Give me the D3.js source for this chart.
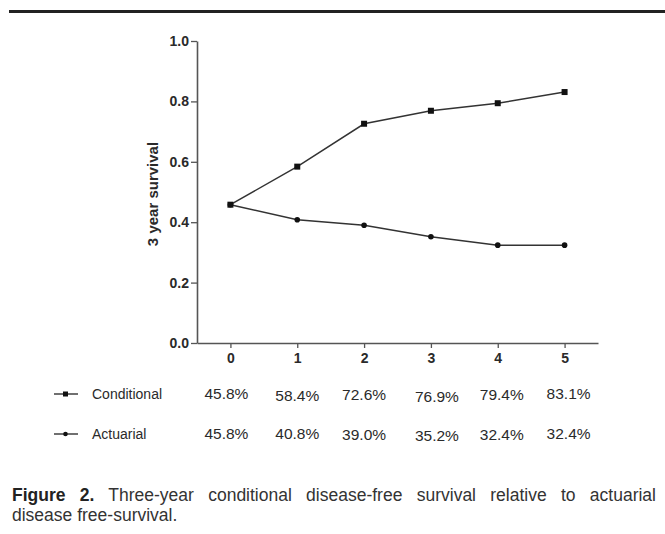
<!DOCTYPE html>
<html><head><meta charset="utf-8">
<script src="https://cdn.jsdelivr.net/npm/d3@7"></script>
<style>
body{margin:0;background:#fff;}
svg{display:block;font-family:"Liberation Sans",Arial,sans-serif;}
</style></head>
<body>
<svg id="c" width="665" height="534"></svg>
<script>
const years = [0, 1, 2, 3, 4, 5];
const conditional = [0.458, 0.584, 0.726, 0.769, 0.794, 0.831];
const actuarial = [0.458, 0.408, 0.390, 0.352, 0.324, 0.324];
const conditionalLabels = ["45.8%", "58.4%", "72.6%", "76.9%", "79.4%", "83.1%"];
const actuarialLabels = ["45.8%", "40.8%", "39.0%", "35.2%", "32.4%", "32.4%"];
const yTicks = [0.0, 0.2, 0.4, 0.6, 0.8, 1.0];
const seriesNames = ["Conditional", "Actuarial"];

const svg = d3.select("#c");
const x = d3.scaleLinear().domain([-0.5, 5.5]).range([197, 598]);
const y = d3.scaleLinear().domain([0, 1]).range([343, 41]);
const ink = "#2a2a2a", axisCol = "#555";

// top rule
svg.append("rect").attr("x", 9).attr("y", 10).attr("width", 656).attr("height", 3).attr("fill", "#222");

// axes
const yAxis = svg.append("g").attr("transform", "translate(197,0)")
  .call(d3.axisLeft(y).tickValues(yTicks).tickFormat(d3.format(".1f")).tickSize(6).tickSizeOuter(0));
const xAxis = svg.append("g").attr("transform", "translate(0,343)")
  .call(d3.axisBottom(x).tickValues(years).tickFormat(d3.format("d")).tickSize(5).tickSizeOuter(0));
[yAxis, xAxis].forEach(g => {
  g.select(".domain").attr("stroke", axisCol).attr("stroke-width", 1.6);
  g.selectAll(".tick line").attr("stroke", axisCol).attr("stroke-width", 1.3);
  g.selectAll(".tick text").attr("fill", ink).attr("font-size", 14).attr("font-weight", "bold")
    .attr("font-family", "'Liberation Sans',Arial,sans-serif");
});
yAxis.selectAll(".tick text").attr("x", -8);
xAxis.selectAll(".tick text").attr("y", 10);

svg.append("text").attr("transform", "translate(158,194) rotate(-90)")
  .attr("text-anchor", "middle").attr("font-size", 15).attr("font-weight", "bold").attr("fill", ink)
  .text("3 year survival");

// lines
const line = d3.line().x((d, i) => x(years[i])).y(d => y(d));
svg.append("path").datum(conditional).attr("d", line).attr("fill", "none").attr("stroke", "#333").attr("stroke-width", 1.5);
svg.append("path").datum(actuarial).attr("d", line).attr("fill", "none").attr("stroke", "#333").attr("stroke-width", 1.5);
svg.selectAll(".sq").data(conditional).join("rect")
  .attr("x", (d, i) => x(years[i]) - 3).attr("y", d => y(d) - 3).attr("width", 6).attr("height", 6).attr("fill", "#111");
svg.selectAll(".ci").data(actuarial).join("circle")
  .attr("cx", (d, i) => x(years[i])).attr("cy", d => y(d)).attr("r", 2.8).attr("fill", "#111");

// table / legend (small hand-set nudges as in the original figure)
const rowY = [394, 434];
const cellDx = [-4, 0, 0, 6, 4, 4];
const cellDy = [[0, 2, 1, 3, 1, 0], [0, 0, 1, 2, 1, 0]];
const rowLabels = [conditionalLabels, actuarialLabels];
seriesNames.forEach((name, r) => {
  const yy = rowY[r];
  svg.append("line").attr("x1", 54).attr("x2", 78).attr("y1", yy).attr("y2", yy).attr("stroke", "#333").attr("stroke-width", 1.4);
  if (r === 0) svg.append("rect").attr("x", 63).attr("y", yy - 2.5).attr("width", 5).attr("height", 5).attr("fill", "#111");
  else svg.append("circle").attr("cx", 65.5).attr("cy", yy).attr("r", 2.3).attr("fill", "#111");
  svg.append("text").attr("x", 92).attr("y", yy).attr("dy", "0.35em").attr("font-size", 14).attr("fill", ink).text(name);
  svg.selectAll(null).data(rowLabels[r]).join("text")
    .attr("x", (d, i) => x(years[i]) + cellDx[i]).attr("y", (d, i) => yy + cellDy[r][i]).attr("dy", "0.35em")
    .attr("text-anchor", "middle").attr("font-size", 15.5).attr("fill", ink).text(d => d);
});

// caption (justified first line via word-spacing)
const cap = svg.append("text").attr("x", 12).attr("y", 501).attr("font-size", 17.5).attr("fill", "#333");
cap.append("tspan").attr("font-weight", "bold").attr("fill", "#222").text("Figure 2.");
cap.append("tspan").text(" Three-year conditional disease-free survival relative to actuarial");
const natural = cap.node().getComputedTextLength();
const spaces = 8;
cap.attr("word-spacing", Math.max(0, (656 - 12 - natural) / spaces));
svg.append("text").attr("x", 12).attr("y", 521).attr("font-size", 17.5).attr("fill", "#333").text("disease free-survival.");
</script>
</body></html>
